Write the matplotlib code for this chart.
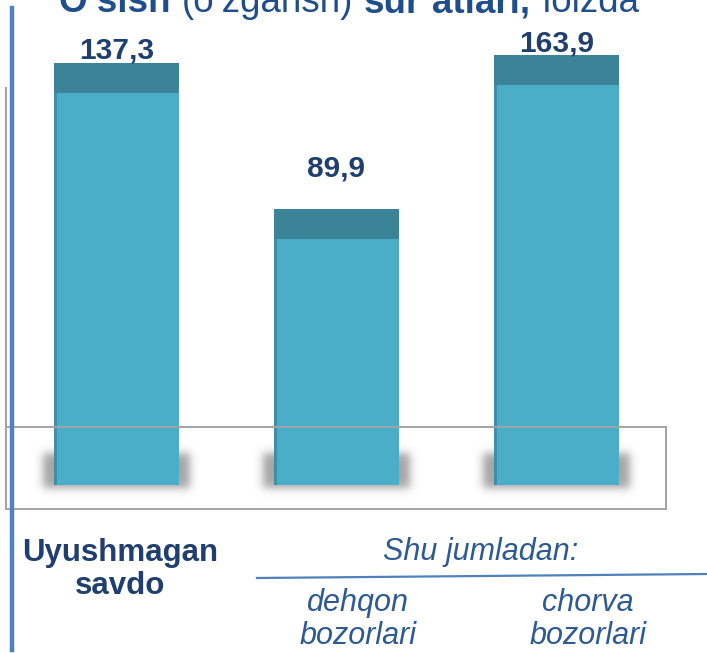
import matplotlib
matplotlib.use("Agg")
import numpy as np
import matplotlib.pyplot as plt
from matplotlib.patches import Rectangle
from matplotlib.lines import Line2D

# ---- data ----
categories = ["Uyushmagan savdo", "dehqon bozorlari", "chorva bozorlari"]
values = [137.3, 89.9, 163.9]
value_labels = ["137,3", "89,9", "163,9"]
title_parts = [("O\u2018sish", "bold"), ("(o\u2018zgarish)", "normal"),
               ("sur\u2019atlari,", "bold"), ("foizda", "normal")]

# ---- style ----
W, H = 707, 653
DPI = 100
BAR_COLOR = "#4BAEC8"
CAP_COLOR = "#3B8497"
NAVY = "#213F6E"
ITAL = "#2E5A92"
BLUE_LINE = "#4F81BD"
GRAY = "#A3A3A3"
FONT = "Liberation Sans"
YMAX = 140.0
label_offsets_px = [13, 40, 12]

fig = plt.figure(figsize=(W / DPI, H / DPI), dpi=DPI)
fig.patch.set_facecolor("white")

def fx(px):
    return px / W

def fy(py):  # py measured from top
    return 1 - py / H

# axes: bottom at y=485 px, top at 55 px; x from 6.5 to 666.5 px
ax = fig.add_axes([fx(6.5), fy(485), fx(660), (485 - 55) / H])
ax.axis("off")
ax.patch.set_alpha(0)

px_x = 3.0 / 660.0          # data units per pixel in x
px_y = YMAX / 430.0         # data units per pixel in y
bar_w = 125 * px_x
cap_h = 30 * px_y

# frame box behind bars
box = Rectangle((fx(6), fy(509)), fx(660), (509 - 427) / H, transform=fig.transFigure,
                fill=False, edgecolor=GRAY, lw=1.4, zorder=0.5)
fig.add_artist(box)
fig.add_artist(Line2D([fx(6), fx(6)], [fy(88), fy(427)], color=GRAY, lw=1.4, zorder=0.5))

x = list(range(len(values)))
tops = [min(v, YMAX) for v in values]

# soft shadows behind bar bases (image with blurred alpha)
def sig(t):
    return 1.0 / (1.0 + np.exp(-t))

pad = 10
sw = 125 + 2 * 11     # core shadow width in px
sh = 35               # core shadow height in px
gx = np.arange(-pad, sw + pad) + 0.5
gy = np.arange(-pad, sh + pad) + 0.5
s = 2.6
ax_prof = sig(gx / s) * sig((sw - gx) / s)
ay_prof = sig(gy / s) * sig((sh - gy) / s)
alpha = np.outer(ay_prof, ax_prof) * 0.62
rgba = np.zeros(alpha.shape + (4,))
rgba[..., :3] = 0.42
rgba[..., 3] = alpha
for i in x:
    left = i - (sw / 2 + pad) * px_x
    right = i + (sw / 2 + pad) * px_x
    bottom = -(3 + pad) * px_y
    top = (sh - 3 + pad) * px_y
    ax.imshow(rgba, extent=(left, right, bottom, top), origin="lower",
              aspect="auto", interpolation="bilinear", zorder=1, clip_on=False)

ax.bar(x, tops, width=bar_w, color=BAR_COLOR, zorder=3, linewidth=0)
ax.bar(x, [cap_h] * len(x), bottom=[t - cap_h for t in tops], width=bar_w,
       color=CAP_COLOR, zorder=4, linewidth=0)
# subtle left-edge shading
ax.bar([i - bar_w / 2 + 1.5 * px_x for i in x], tops, width=3 * px_x, color="#3C8FA6",
       zorder=3.5, linewidth=0)
ax.set_xlim(-0.5, 2.5)
ax.set_ylim(0, YMAX)

for i, (t, lab, off) in enumerate(zip(tops, value_labels, label_offsets_px)):
    ax.annotate(lab, xy=(i, t), xytext=(0, off * 72 / DPI), textcoords="offset points",
                ha="center", va="center", fontsize=21.5, fontweight="bold",
                color=NAVY, family=FONT, zorder=5)

# left blue vertical line
fig.add_artist(Line2D([fx(12), fx(12)], [fy(8), fy(650)], color=BLUE_LINE, lw=3.2, zorder=6))

# title (mostly cut off at top)
renderer = fig.canvas.get_renderer()
cx = 58
for txt, wt in title_parts:
    t = fig.text(fx(cx), fy(12), txt, fontsize=26.5, fontweight=wt, color="#1F4E8C",
                 family=FONT, ha="left", va="baseline")
    bb = t.get_window_extent(renderer=renderer)
    cx += bb.width + 11

# category texts
fig.text(fx(120), fy(553), "Uyushmagan", ha="center", va="center", fontsize=22.5,
         fontweight="bold", color=NAVY, family=FONT)
fig.text(fx(120), fy(586), "savdo", ha="center", va="center", fontsize=22.5,
         fontweight="bold", color=NAVY, family=FONT)
fig.text(fx(481), fy(552), "Shu jumladan:", ha="center", va="center", fontsize=22,
         style="italic", color=ITAL, family=FONT)
fig.add_artist(Line2D([fx(257), fx(707)], [fy(578), fy(574)], color=BLUE_LINE, lw=1.6))
for cxp, (w1, w2) in zip([358, 588], [("dehqon", "bozorlari"), ("chorva", "bozorlari")]):
    fig.text(fx(cxp), fy(603), w1, ha="center", va="center", fontsize=22,
             style="italic", color=ITAL, family=FONT)
    fig.text(fx(cxp), fy(636), w2, ha="center", va="center", fontsize=22,
             style="italic", color=ITAL, family=FONT)

fig.savefig("out.png", dpi=DPI, facecolor="white")
